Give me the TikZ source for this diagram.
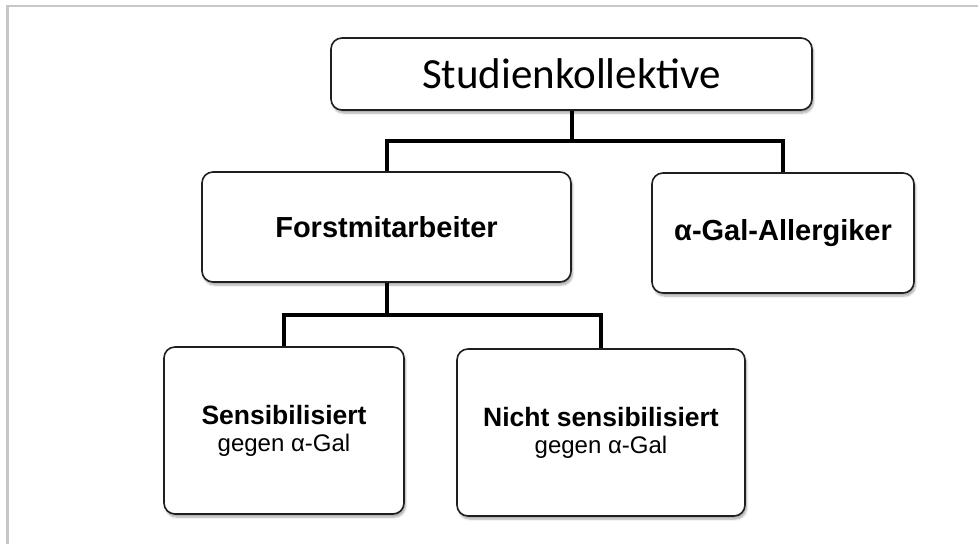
\documentclass[tikz,border=0pt]{standalone}
\usepackage{fontspec}
\setmainfont{Liberation Sans}
\newfontfamily\calibrifont{Carlito}
\usetikzlibrary{positioning}
\usetikzlibrary{shadows.blur}

\begin{document}
\begin{tikzpicture}[x=1pt,y=-1pt,
  box/.style={draw=black!88,line width=1.6pt,rounded corners=11pt,fill=white,
    align=center,inner sep=0pt,
    blur shadow={shadow xshift=1.5pt,shadow yshift=-3pt,shadow blur steps=6,shadow opacity=35}},
  link/.style={line width=4pt,black},
  frame/.style={line width=2.5pt,black!22}]
  \useasboundingbox (0,0) rectangle (978,544);
  \draw[frame] (978,6) -- (7.5,6) -- (7.5,544);
  \node[box,minimum width=481pt,minimum height=72pt,font=\calibrifont\fontsize{43}{46}\selectfont] (koll) at (571.5,74) {Studienkollektive};
  \node[box,minimum width=369pt,minimum height=110pt,font=\bfseries\fontsize{29}{32}\selectfont] (forst) at (386.5,227) {Forstmitarbeiter};
  \node[box,minimum width=262pt,minimum height=120pt,font=\bfseries\fontsize{29}{32}\selectfont] (allerg) at (783,233) {α-Gal-Allergiker};
  \node[box,minimum width=240pt,minimum height=167pt,font=\fontsize{24}{27}\selectfont] (sens) at (284,430.5)
    {{\bfseries\fontsize{26.5}{27}\selectfont Sensibilisiert}\\gegen α-Gal};
  \node[box,minimum width=288pt,minimum height=167pt,font=\fontsize{24}{27}\selectfont] (nicht) at (601,432.5)
    {{\bfseries\fontsize{26.5}{27}\selectfont Nicht sensibilisiert}\\gegen α-Gal};
  \coordinate (j1) at (571.5,141);
  \coordinate (j2) at (386.5,315);
  \draw[link] (koll.south) -- (j1);
  \draw[link] (j1) -| (forst.north);
  \draw[link] (j1) -| (allerg.north);
  \draw[link] (forst.south) -- (j2);
  \draw[link] (j2) -| (sens.north);
  \draw[link] (j2) -| (nicht.north);
\end{tikzpicture}
\end{document}
